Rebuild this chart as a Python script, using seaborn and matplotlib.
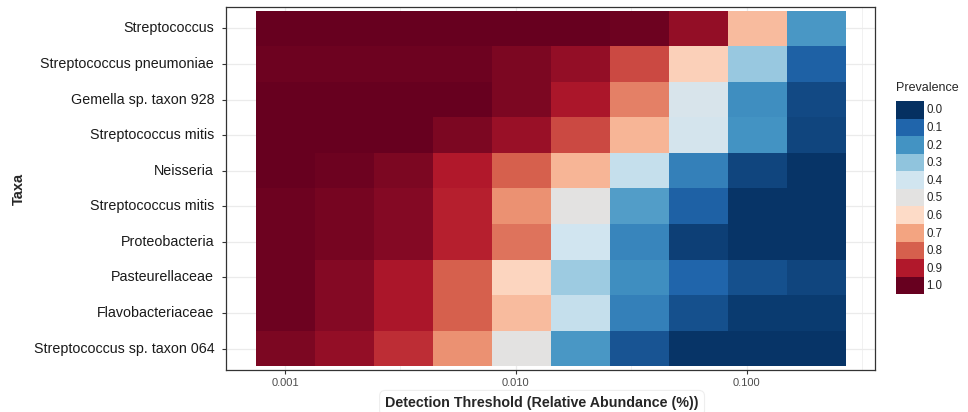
import numpy as np
import pandas as pd
import seaborn as sns
import matplotlib
matplotlib.use("Agg")
import matplotlib.pyplot as plt
from matplotlib.colors import LinearSegmentedColormap
from matplotlib.patches import Patch

sns.set_theme(style="white")
plt.rcParams['font.family'] = ['Liberation Sans', 'DejaVu Sans']

# ---- data ----
taxa = ["Streptococcus", "Streptococcus pneumoniae", "Gemella sp. taxon 928",
        "Streptococcus mitis", "Neisseria", "Streptococcus mitis",
        "Proteobacteria", "Pasteurellaceae", "Flavobacteriaceae",
        "Streptococcus sp. taxon 064"]
thresholds = [0.001, 0.0018, 0.00324, 0.00585, 0.01054, 0.0190,
              0.0342, 0.0617, 0.111, 0.2]
prev_streptococcus = [1.00, 1.00, 1.00, 1.00, 1.00, 1.00, 0.99, 0.94, 0.66, 0.21]
prev_pneumoniae    = [0.99, 0.99, 0.99, 0.99, 0.97, 0.94, 0.83, 0.62, 0.31, 0.09]
prev_gemella       = [1.00, 1.00, 1.00, 1.00, 0.97, 0.91, 0.75, 0.44, 0.19, 0.05]
prev_mitis_a       = [1.00, 1.00, 1.00, 0.97, 0.93, 0.83, 0.67, 0.42, 0.20, 0.04]
prev_neisseria     = [1.00, 0.99, 0.97, 0.90, 0.80, 0.67, 0.38, 0.16, 0.04, 0.01]
prev_mitis_b       = [0.99, 0.98, 0.96, 0.89, 0.73, 0.50, 0.22, 0.09, 0.01, 0.01]
prev_proteo        = [0.99, 0.98, 0.96, 0.89, 0.77, 0.40, 0.17, 0.03, 0.01, 0.01]
prev_pasteur       = [0.99, 0.96, 0.91, 0.80, 0.61, 0.32, 0.19, 0.10, 0.06, 0.04]
prev_flavo         = [0.99, 0.96, 0.91, 0.80, 0.66, 0.38, 0.16, 0.06, 0.02, 0.02]
prev_taxon064      = [0.97, 0.94, 0.87, 0.73, 0.50, 0.21, 0.07, 0.01, 0.01, 0.01]
x_ticks = [0.001, 0.01, 0.1]
x_ticklabels = ["0.001", "0.010", "0.100"]
legend_breaks = [0.0, 0.1, 0.2, 0.3, 0.4, 0.5, 0.6, 0.7, 0.8, 0.9, 1.0]

palette = ["#053061", "#2166AC", "#4393C3", "#92C5DE", "#D1E5F0", "#E2E2E2",
           "#FDDBC7", "#F4A582", "#D6604D", "#B2182B", "#67001F"]
cmap = LinearSegmentedColormap.from_list("rdbu_gray", palette)

mat = pd.DataFrame([prev_streptococcus, prev_pneumoniae, prev_gemella, prev_mitis_a,
                    prev_neisseria, prev_mitis_b, prev_proteo, prev_pasteur,
                    prev_flavo, prev_taxon064], columns=thresholds)

fig = plt.figure(figsize=(9.68, 4.12), dpi=100)
ax = fig.add_axes([226/968, 1-370/412, (875-226)/968, (370-7)/412])

sns.heatmap(mat, ax=ax, cmap=cmap, vmin=0, vmax=1, cbar=False,
            xticklabels=False, yticklabels=taxa)

ncol = len(thresholds)
nrow = len(taxa)

# map log-threshold to heatmap column position
lt = np.log10(thresholds)
step = (lt[-1] - lt[0]) / (ncol - 1)
def xpos(v):
    return 0.5 + (np.log10(v) - lt[0]) / step

# grid (theme_bw style)
grid_c = "#EBEBEB"
for i in range(nrow):
    ax.axhline(i + 0.5, color=grid_c, lw=0.9, zorder=0.5)
for v in x_ticks:
    ax.axvline(xpos(v), color=grid_c, lw=0.9, zorder=0.5)
for v in [10**-3.5, 10**-2.5, 10**-1.5, 10**-0.5]:
    ax.axvline(xpos(v), color=grid_c, lw=0.5, zorder=0.5)
ax.set_xlim(-0.05*ncol, ncol*1.05)
ax.set_ylim(nrow + 0.1, -0.1)

ax.set_xticks([xpos(v) for v in x_ticks])
ax.set_xticklabels(x_ticklabels, fontsize=8, color="#4D4D4D")
ax.set_yticks(np.arange(nrow) + 0.5)
ax.set_yticklabels(taxa, fontsize=10.3, color="#1A1A1A", rotation=0)
ax.tick_params(axis="both", which="major", length=3, width=0.8, color="#333333",
               bottom=True, left=True)
ax.tick_params(axis="y", pad=5.5)
ax.tick_params(axis="x", pad=3)

for s in ax.spines.values():
    s.set_visible(True)
    s.set_color("#333333")
    s.set_linewidth(0.9)

ax.set_xlabel("Detection Threshold (Relative Abundance (%))", fontsize=10.3,
              fontweight="bold",
              bbox=dict(boxstyle="round,pad=0.4", fc="white", ec="#EEEEEE", lw=0.8))
ax.xaxis.set_label_coords(0.487, -0.072)
ax.set_ylabel("Taxa", fontsize=10.5, fontweight="bold")
ax.yaxis.set_label_coords(-0.308, 0.5)

handles = [Patch(facecolor=cmap(b), edgecolor="none", label=f"{b:.1f}")
           for b in legend_breaks]
leg = fig.legend(handles=handles, title="Prevalence", loc="upper left",
                 bbox_to_anchor=(896/968, 1-82/412), frameon=False,
                 fontsize=8.3, title_fontsize=9, handlelength=2.4,
                 handleheight=1.97, labelspacing=0.0, handletextpad=0.25,
                 borderpad=0, borderaxespad=0)
leg._legend_box.align = "left"
leg._legend_box.sep = 5

fig.savefig("out.png", dpi=100)
